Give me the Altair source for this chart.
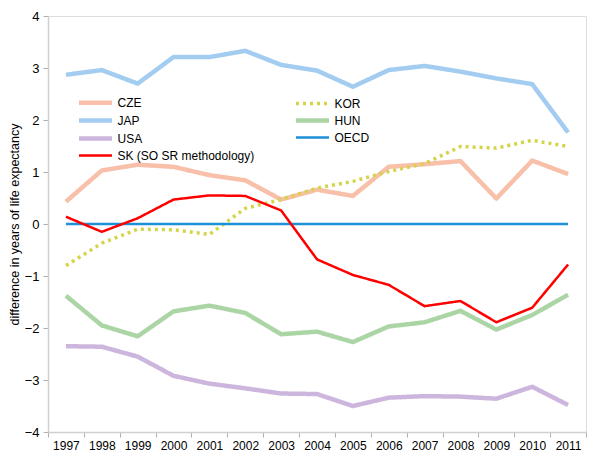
import altair as alt
import pandas as pd

years = [str(y) for y in range(1997, 2012)]

series_names = ["CZE", "JAP", "USA", "SK (SO SR methodology)", "KOR", "HUN", "OECD"]

cze = [0.43, 1.03, 1.14, 1.10, 0.94, 0.84, 0.47, 0.66, 0.54, 1.10, 1.15, 1.21, 0.49, 1.22, 0.96]
jap = [2.87, 2.96, 2.70, 3.21, 3.21, 3.33, 3.06, 2.95, 2.64, 2.96, 3.04, 2.93, 2.80, 2.69, 1.76]
usa = [-2.35, -2.36, -2.55, -2.92, -3.07, -3.16, -3.26, -3.27, -3.50, -3.34, -3.31, -3.32, -3.36, -3.13, -3.48]
sk = [0.14, -0.15, 0.11, 0.47, 0.55, 0.54, 0.26, -0.68, -0.98, -1.17, -1.58, -1.48, -1.89, -1.61, -0.78]
kor = [-0.80, -0.37, -0.10, -0.11, -0.20, 0.30, 0.47, 0.69, 0.82, 1.01, 1.16, 1.49, 1.46, 1.61, 1.49]
hun = [-1.38, -1.95, -2.16, -1.68, -1.57, -1.71, -2.12, -2.07, -2.27, -1.97, -1.89, -1.67, -2.03, -1.75, -1.36]
oecd = [0.0] * 15

values = {
    "CZE": cze,
    "JAP": jap,
    "USA": usa,
    "SK (SO SR methodology)": sk,
    "KOR": kor,
    "HUN": hun,
    "OECD": oecd,
}

colors = ["#f8bfa9", "#a3cdf0", "#cdb6dd", "#ff0000", "#d4d448", "#acd5a6", "#1e90d8"]
widths = [4.5, 4.5, 4.5, 2.5, 3.5, 4.5, 2.5]
dashes = [[1, 0], [1, 0], [1, 0], [1, 0], [3, 4], [1, 0], [1, 0]]

draw_order = ["JAP", "CZE", "HUN", "USA", "KOR", "OECD", "SK (SO SR methodology)"]
rows = []
for name in draw_order:
    for yr, v in zip(years, values[name]):
        rows.append({"year": yr, "value": v, "country": name, "ord": draw_order.index(name)})
df = pd.DataFrame(rows)

FONT = "Liberation Sans, Arial"

chart = alt.Chart(df).mark_line(strokeJoin="round").encode(
    x=alt.X(
        "year:O",
        scale=alt.Scale(type="band", paddingInner=0, paddingOuter=0),
        bandPosition=0.5,
        axis=alt.Axis(
            title=None, labelAngle=0, tickBand="extent", domainColor="#d0d0d0",
            domainWidth=1.5, tickColor="#b0b0b0", tickSize=5, labelFontSize=12,
            labelPadding=3, labelColor="#000", labelFont=FONT, grid=False,
        ),
    ),
    y=alt.Y(
        "value:Q",
        scale=alt.Scale(domain=[-4, 4], nice=False, zero=False),
        axis=alt.Axis(
            title="difference in years of life expectancy", values=[-4, -3, -2, -1, 0, 1, 2, 3, 4],
            domainColor="#d0d0d0", domainWidth=1.5, tickColor="#b0b0b0", tickSize=5,
            labelFontSize=13, labelPadding=4, labelColor="#000", labelFont=FONT,
            titleFont=FONT, titleFontSize=12.5, titleFontWeight="normal", titleColor="#000",
            titlePadding=3, grid=False,
        ),
    ),
    color=alt.Color(
        "country:N",
        scale=alt.Scale(domain=series_names, range=colors),
        legend=alt.Legend(
            title=None, orient="none", legendX=39, legendY=78, columns=2,
            symbolType="M-2.75,0L2.75,0", symbolSize=144, labelFont=FONT, labelFontSize=12,
            labelColor="#000", labelOffset=13.5, rowPadding=-2, columnPadding=32,
            padding=0, labelLimit=300,
        ),
    ),
    strokeWidth=alt.StrokeWidth(
        "country:N", scale=alt.Scale(type="ordinal", domain=series_names, range=widths)
    ),
    strokeDash=alt.StrokeDash(
        "country:N", scale=alt.Scale(domain=series_names, range=dashes)
    ),
    order=alt.Order("ord:Q"),
).properties(
    width=538,
    height=416,
    padding={"left": 0, "top": 2, "right": 0, "bottom": 0},
).configure_view(stroke=None).configure(background="white")

chart.save("out.html", embed_options={"renderer": "svg", "actions": False})
